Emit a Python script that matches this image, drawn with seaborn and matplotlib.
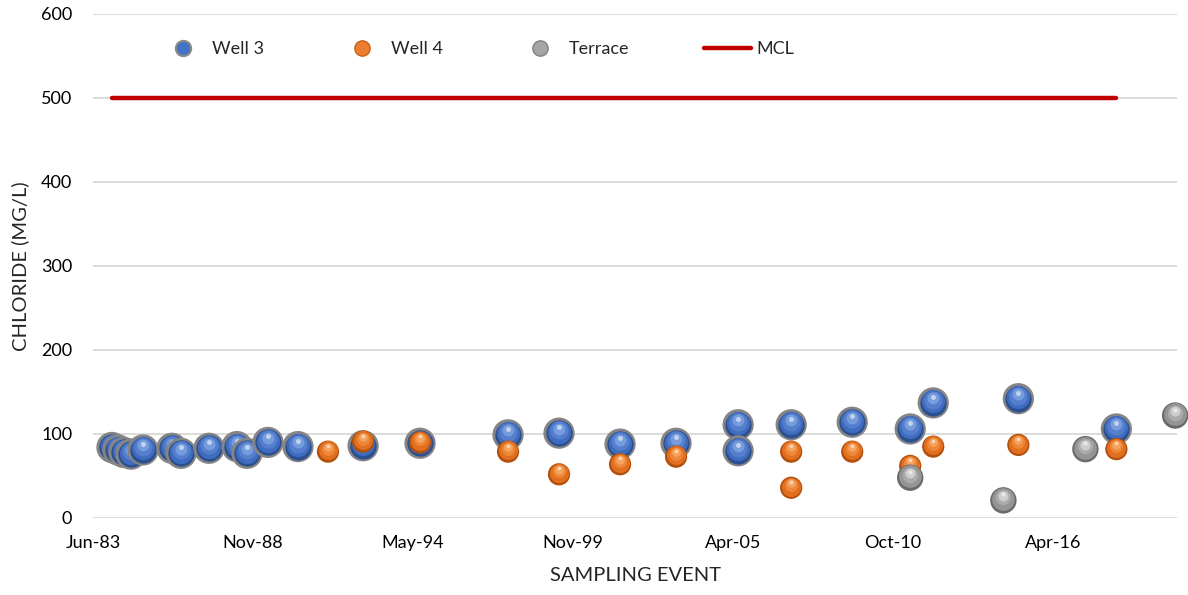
import numpy as np
import pandas as pd
import matplotlib
matplotlib.use("Agg")
import matplotlib.pyplot as plt
import matplotlib.transforms as mtransforms
from matplotlib.lines import Line2D
import seaborn as sns

# ---- data -------------------------------------------------------------
well3_dates = ["1984-01-26", "1984-04-10", "1984-06-24", "1984-09-20", "1985-02-17",
               "1986-02-14", "1986-06-07", "1987-05-23", "1988-05-07", "1988-09-09",
               "1989-05-29", "1990-06-08", "1992-08-30", "1994-08-12", "1997-08-16",
               "1999-05-15", "2001-06-16", "2003-05-17", "2005-07-01", "2005-07-01",
               "2007-04-25", "2009-05-27", "2011-05-22", "2012-03-05", "2015-02-02",
               "2018-06-11"]
well3_cl = [84, 81, 78, 76, 81,
            83, 77, 83, 85, 77,
            90, 85, 86, 89, 99,
            101, 88, 89, 111, 80,
            111, 114, 106, 137, 142,
            106]

well4_dates = ["1991-06-18", "1992-08-30", "1994-08-12", "1997-08-16", "1999-05-15",
               "2001-06-16", "2003-05-17", "2007-04-25", "2007-04-25", "2009-05-27",
               "2011-05-22", "2012-03-05", "2015-02-02", "2018-06-11"]
well4_cl = [79, 91, 90, 79, 52,
            64, 73, 79, 36, 79,
            62, 85, 87, 82]

terrace_dates = ["2011-05-22", "2014-07-30", "2017-05-20", "2020-06-15"]
terrace_cl = [48, 21, 82, 122]

mcl_dates = ["1984-01-26", "2018-06-11"]
mcl_cl = [500, 500]

x_start, x_end = "1983-06-03", "2020-07-08"
x_tick_labels = ["Jun-83", "Nov-88", "May-94", "Nov-99", "Apr-05", "Oct-10", "Apr-16"]
y_ticks = [0, 100, 200, 300, 400, 500, 600]

# ---- style ------------------------------------------------------------
sns.set_theme(style="white")
plt.rcParams["font.family"] = ["Lato", "DejaVu Sans"]

fig = plt.figure(figsize=(11.88, 5.95), dpi=100)
ax = fig.add_axes([93 / 1188, 1 - 518 / 595, (1177 - 93) / 1188, (518 - 14) / 595])

grid_col = "#d9d9d9"
for v in y_ticks:
    ax.axhline(v, color=grid_col, lw=1.3, zorder=0)

# ---- series -----------------------------------------------------------
frames = {
    "Well 3": pd.DataFrame({"date": pd.to_datetime(well3_dates), "cl": well3_cl}),
    "Well 4": pd.DataFrame({"date": pd.to_datetime(well4_dates), "cl": well4_cl}),
    "Terrace": pd.DataFrame({"date": pd.to_datetime(terrace_dates), "cl": terrace_cl}),
}

styles = {
    "Well 3": dict(d=22.5, ring="#858585", dark="#2b4f8f", base="#3f6cbf",
                   mid="#557fcc", light="#79a0e0", z=3),
    "Well 4": dict(d=16.0, ring=None, dark="#b24f0c", base="#e0701f",
                   mid="#ee8838", light="#f6a865", z=4),
    "Terrace": dict(d=19.0, ring=None, dark="#6a6a6a", base="#959595",
                    mid="#ababab", light="#d2d2d2", z=5),
}


def shifted(dy):
    return mtransforms.offset_copy(ax.transData, fig=fig, x=0, y=dy, units="dots")


for name, df in frames.items():
    st = styles[name]
    d, z = st["d"], st["z"]
    outer = st["ring"] if st["ring"] else st["dark"]
    if st["ring"]:
        layers = [(0.84, st["dark"], 0.0, 1.0), (0.74, st["base"], 1.5, 1.0)]
    else:
        layers = [(0.86, st["base"], 1.2, 1.0)]
    layers += [(0.58, st["mid"], 3.0, 1.0),
               (0.38, st["light"], 4.5, 0.9),
               (0.16, "#ffffff", 6.0, 0.55)]
    # each sampling event is shaded as its own sphere so later ones sit on top
    for i in range(len(df)):
        pt = df.iloc[[i]]
        zi = z + i * 0.01
        sns.scatterplot(data=pt, x="date", y="cl", ax=ax, s=d ** 2, color=outer,
                        edgecolor="none", linewidth=0, zorder=zi, clip_on=False,
                        legend=False)
        for k, (frac, col, dy, alpha) in enumerate(layers):
            ax.scatter(pt["date"], pt["cl"], s=(d * frac) ** 2, color=col, alpha=alpha,
                       linewidths=0, zorder=zi + 0.001 * (k + 1), transform=shifted(dy),
                       clip_on=False)

ax.plot(pd.to_datetime(mcl_dates), mcl_cl, color="#c00000", lw=3.2,
        solid_capstyle="round", zorder=2)

# ---- axes -------------------------------------------------------------
ax.set_xlim(pd.Timestamp(x_start), pd.Timestamp(x_end))
ax.set_ylim(0, 600)
ax.set_yticks(y_ticks)
ax.set_xticks(pd.date_range(x_start, periods=len(x_tick_labels), freq="2000D"))
ax.set_xticklabels(x_tick_labels)
ax.tick_params(axis="both", length=0, labelsize=13, colors="#000000")
ax.tick_params(axis="y", pad=15)
ax.tick_params(axis="x", pad=12)
for sp in ax.spines.values():
    sp.set_visible(False)
ax.set_xlabel("SAMPLING EVENT", fontsize=14.5, labelpad=12)
ax.set_ylabel("CHLORIDE (MG/L)", fontsize=14.5)
ax.yaxis.set_label_coords((20 - 93) / 1084, 0.5)
ax.yaxis.label.set_verticalalignment("center")

# ---- legend -----------------------------------------------------------
handles = [
    Line2D([], [], ls="none", marker="o", markersize=11, markerfacecolor="#4472c4",
           markeredgecolor="#8a8a8a", markeredgewidth=1.5),
    Line2D([], [], ls="none", marker="o", markersize=11, markerfacecolor="#ed7d31",
           markeredgecolor="#c7611a", markeredgewidth=1.0),
    Line2D([], [], ls="none", marker="o", markersize=11, markerfacecolor="#a5a5a5",
           markeredgecolor="#808080", markeredgewidth=1.0),
    Line2D([], [], color="#c00000", lw=3.2, solid_capstyle="round"),
]
ax.legend(handles, ["Well 3", "Well 4", "Terrace", "MCL"], ncol=4, frameon=False,
          fontsize=13, loc="center left", bbox_to_anchor=(160 / 1188, 1 - 49 / 595),
          bbox_transform=fig.transFigure, handlelength=2.6, handletextpad=0.3,
          columnspacing=4.1, borderaxespad=0, borderpad=0)

fig.savefig("out.png", dpi=100)
